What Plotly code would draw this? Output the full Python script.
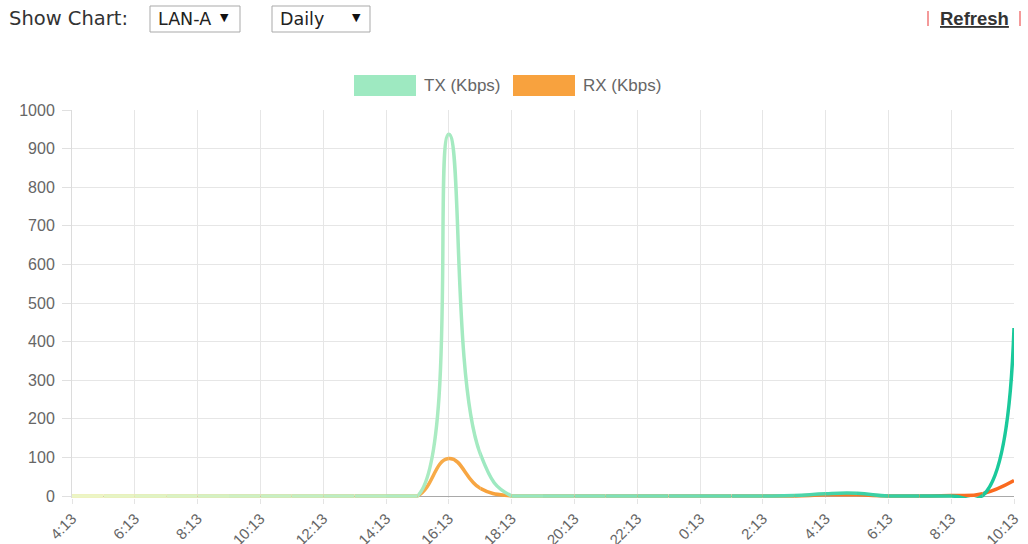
import plotly.graph_objects as go

# Hourly samples, 4:13 one day through 10:13 the next
hours = ["4:13", "5:13", "6:13", "7:13", "8:13", "9:13", "10:13", "11:13",
         "12:13", "13:13", "14:13", "15:13", "16:13", "17:13", "18:13", "19:13",
         "20:13", "21:13", "22:13", "23:13", "0:13", "1:13", "2:13", "3:13",
         "4:13", "5:13", "6:13", "7:13", "8:13", "9:13", "10:13"]
tx_kbps = [0, 0, 0, 0, 0, 0, 0, 0, 0, 0, 0, 0, 937, 110, 0, 0,
           0, 0, 0, 0, 0, 0, 0, 1, 6, 7, 0, 0, 0, 1, 435]
rx_kbps = [0, 0, 0, 0, 0, 0, 0, 0, 0, 0, 0, 0, 97, 20, 0, 0,
           0, 0, 0, 0, 0, 0, 0, 0, 3, 3, 0, 0, 1, 6, 40]
y_ticks = [0, 100, 200, 300, 400, 500, 600, 700, 800, 900, 1000]

# Gradient stops along the time axis (fraction, rgb)
TX_STOPS = [(0.0, (238, 246, 198)), (0.45, (158, 233, 193)), (1.0, (22, 200, 154))]
RX_STOPS = [(0.0, (250, 222, 150)), (0.45, (247, 162, 60)), (1.0, (250, 104, 30))]

W, H = 1028, 544
L, R, T, B = 72, 1014, 110, 498          # plot area in pixels
Y_ZERO_PX = 496                          # pixel row of value 0
Y_MIN = -(B - Y_ZERO_PX) / (Y_ZERO_PX - T) * 1000

FONT = "Liberation Sans, Arial, sans-serif"
GREY = "#666666"


def px_x(p):
    return (p - L) / (R - L)


def px_y(p):
    return (B - p) / (B - T)


def grad(stops, t):
    for (t0, c0), (t1, c1) in zip(stops, stops[1:]):
        if t <= t1:
            f = (t - t0) / (t1 - t0)
            c = [round(a + (b - a) * f) for a, b in zip(c0, c1)]
            return "rgb(%d,%d,%d)" % tuple(c)
    return "rgb(%d,%d,%d)" % stops[-1][1]


xs = list(range(len(hours)))
n_seg = len(hours) - 1

fig = go.Figure()

# invisible carrier trace on the main axes (grid, ticks)
fig.add_trace(go.Scatter(x=xs, y=tx_kbps, mode="lines", line=dict(width=1),
                         opacity=0, showlegend=False, hoverinfo="skip"))

layout_axes = {}
# each hourly segment gets its own clipped x-axis so the line colour can
# follow a left-to-right gradient while the spline stays continuous
for k in range(n_seg):
    ax = k + 2
    t = (k + 0.5) / n_seg
    for series, stops in ((rx_kbps, RX_STOPS), (tx_kbps, TX_STOPS)):
        # flat stretches stay flat (no dip of the curve below the axis)
        flat = series[k] == series[k + 1]
        if flat:
            lo, hi = k, k + 1
        else:
            lo, hi = max(0, k - 1), min(n_seg, k + 2)
        fig.add_trace(go.Scatter(
            x=xs[lo:hi + 1], y=series[lo:hi + 1], xaxis="x%d" % ax, yaxis="y",
            mode="lines",
            line=dict(color=grad(stops, t), width=3.5,
                      shape="linear" if flat else "spline",
                      smoothing=1.3, simplify=False),
            showlegend=False, hoverinfo="skip"))
    layout_axes["xaxis%d" % ax] = dict(
        domain=[k / n_seg, (k + 1) / n_seg], range=[k, k + 1],
        anchor="y", visible=False, fixedrange=True)

shapes = []
annotations = []

# legend
for x0, x1, color, label in ((354, 416, "#9ee9c1", "TX (Kbps)"),
                             (513, 575, "#f8a23e", "RX (Kbps)")):
    shapes.append(dict(type="rect", xref="paper", yref="paper",
                       x0=px_x(x0), x1=px_x(x1), y0=px_y(96), y1=px_y(75),
                       fillcolor=color, line=dict(width=0), layer="above"))
    annotations.append(dict(text=label, xref="paper", yref="paper",
                            x=px_x(x1 + 6), y=px_y(85.5), xanchor="left",
                            yanchor="middle", showarrow=False,
                            font=dict(family=FONT, size=17, color=GREY)))

# header controls
HDR_FONT = "DejaVu Sans, Verdana, sans-serif"
annotations.append(dict(text="Show Chart:", xref="paper", yref="paper",
                        x=px_x(7), y=px_y(19), xanchor="left", yanchor="middle",
                        showarrow=False,
                        font=dict(family=HDR_FONT, size=19.5, color="#333333")))
for x0, x1, label, arrow_x in ((150, 240, "LAN-A", 224), (272, 370, "Daily", 356)):
    shapes.append(dict(type="rect", xref="paper", yref="paper",
                       x0=px_x(x0), x1=px_x(x1), y0=px_y(32), y1=px_y(6),
                       fillcolor="white", line=dict(color="#a9a9a9", width=1)))
    annotations.append(dict(text=label, xref="paper", yref="paper",
                            x=px_x(x0 + 6), y=px_y(19), xanchor="left",
                            yanchor="middle", showarrow=False,
                            font=dict(family=HDR_FONT, size=17.5, color="#222222")))
    annotations.append(dict(text="▼", xref="paper", yref="paper",
                            x=px_x(arrow_x), y=px_y(18), xanchor="center",
                            yanchor="middle", showarrow=False,
                            font=dict(family=HDR_FONT, size=11, color="#111111")))

annotations.append(dict(text="<u>Refresh</u>", xref="paper", yref="paper",
                        x=px_x(974), y=px_y(19), xanchor="center", yanchor="middle",
                        showarrow=False,
                        font=dict(family=FONT, size=18.5, color="#333333",
                                  weight="bold")))
for bx in (928, 1020):
    shapes.append(dict(type="line", xref="paper", yref="paper",
                       x0=px_x(bx), x1=px_x(bx), y0=px_y(26), y1=px_y(11),
                       line=dict(color="#f49a9a", width=2)))

fig.update_layout(
    width=W, height=H,
    margin=dict(l=L, r=W - R, t=T, b=H - B, pad=0),
    paper_bgcolor="white", plot_bgcolor="rgba(0,0,0,0)",
    showlegend=False,
    xaxis=dict(
        domain=[0, 1], range=[0, n_seg], anchor="y",
        tickmode="array", tickvals=xs[::2], ticktext=hours[::2],
        tickangle=-45, ticks="outside", ticklen=5, tickcolor="#e4e4e4",
        showgrid=True, gridcolor="#e6e6e6", gridwidth=1,
        zeroline=False, showline=False, automargin=False, fixedrange=True,
        tickfont=dict(family=FONT, size=15, color=GREY)),
    yaxis=dict(
        range=[Y_MIN, 1000], anchor="x",
        tickmode="array", tickvals=y_ticks,
        ticks="outside", ticklen=9, tickcolor="#e0e0e0",
        ticklabelstandoff=4,
        showgrid=True, gridcolor="#e6e6e6", gridwidth=1,
        zeroline=True, zerolinecolor="#a9a9a9", zerolinewidth=1,
        showline=True, linecolor="#dcdcdc", linewidth=1,
        automargin=False, fixedrange=True,
        tickfont=dict(family=FONT, size=16, color=GREY)),
    shapes=shapes,
    annotations=annotations,
    **layout_axes,
)

fig.write_html("out.html")
